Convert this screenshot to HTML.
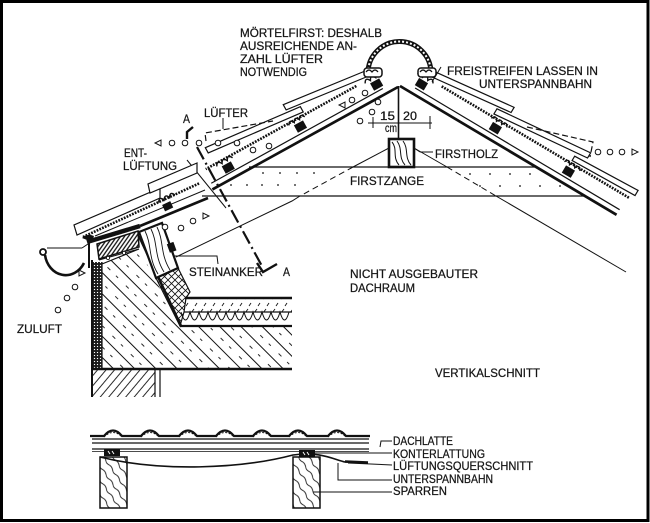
<!DOCTYPE html>
<html><head><meta charset="utf-8"><style>
html,body{margin:0;padding:0;background:#fff;}
svg{display:block;}
text{font-family:"Liberation Sans",Arial,sans-serif;fill:#151515;font-size:12px;stroke:#151515;stroke-width:0.25;}
</style></head><body>
<svg width="650" height="523" viewBox="0 0 650 523" xmlns="http://www.w3.org/2000/svg">
<defs>
 <pattern id="conc" patternUnits="userSpaceOnUse" width="26" height="15" patternTransform="rotate(45)">
  <line x1="0" y1="0.5" x2="26" y2="0.5" stroke="#111" stroke-width="0.9"/>
  <line x1="5" y1="8" x2="9" y2="8" stroke="#111" stroke-width="0.9"/>
  <line x1="17" y1="8" x2="20" y2="8" stroke="#111" stroke-width="0.9"/>
 </pattern>
 <pattern id="wall" patternUnits="userSpaceOnUse" width="10" height="6.5" patternTransform="rotate(-50)">
  <line x1="0" y1="0.5" x2="10" y2="0.5" stroke="#111" stroke-width="0.9"/>
 </pattern>
 <pattern id="wood" patternUnits="userSpaceOnUse" width="10" height="3.2" patternTransform="rotate(-55)">
  <line x1="0" y1="0.8" x2="10" y2="0.8" stroke="#111" stroke-width="1.3"/>
 </pattern>
 <pattern id="stip" patternUnits="userSpaceOnUse" width="3" height="3">
  <rect width="3" height="3" fill="#1a1a1a"/>
  <circle cx="1.5" cy="1.5" r="0.65" fill="#fff"/>
 </pattern>
 <pattern id="xh" patternUnits="userSpaceOnUse" width="7" height="7">
  <path d="M0,0 L7,7 M7,0 L0,7" stroke="#111" stroke-width="0.8"/>
 </pattern>
 <pattern id="screed" patternUnits="userSpaceOnUse" width="9" height="14">
  <line x1="2" y1="5" x2="5" y2="1" stroke="#111" stroke-width="0.9"/>
  <line x1="6" y1="12" x2="8" y2="9" stroke="#111" stroke-width="0.9"/>
 </pattern>
 <pattern id="spar" patternUnits="userSpaceOnUse" width="12" height="8" patternTransform="rotate(55)">
  <path d="M0,1 Q3,0 6,1.5 T12,1" fill="none" stroke="#111" stroke-width="0.9"/>
 </pattern>
</defs>
<rect width="650" height="523" fill="#fff"/>

<!-- ================= RIGHT SLOPE ================= -->
<g transform="translate(400,86) rotate(30.75)" stroke="#111" fill="none">
 <line x1="0" y1="0" x2="252" y2="0" stroke-width="2.7"/>
 <line x1="14" y1="-6" x2="252" y2="-6" stroke-width="1.2"/>
 <line x1="36" y1="-21" x2="255" y2="-21" stroke-width="2.6" stroke-dasharray="1.8 1.2"/>
 <polygon points="186,-29 258,-32 258,-26 186,-24" fill="#fff" stroke-width="1.2"/>
 <polygon points="95,-30 198,-40 198,-34 95,-24" fill="#fff" stroke-width="1.2"/>
 <polygon points="22,-30 109,-40 109,-34 22,-24" fill="#fff" stroke-width="1.2"/>
 <g stroke-width="1.4">
  <rect x="13" y="-16" width="9" height="7" fill="#111"/>
  <path d="M9,-19 q3,-6 6,0 q3,-6 6,0 q3,-6 6,0"/>
  <rect x="99" y="-16" width="9" height="7" fill="#111"/>
  <path d="M95,-19 q3,-6 6,0 q3,-6 6,0 q3,-6 6,0"/>
  <rect x="184" y="-16" width="9" height="7" fill="#111"/>
  <path d="M180,-19 q3,-6 6,0 q3,-6 6,0 q3,-6 6,0"/>
 </g>
</g>

<!-- ================= LEFT SLOPE ================= -->
<g transform="translate(398,87) scale(-1,1) rotate(28.9)" stroke="#111" fill="none">
 <line x1="0" y1="0" x2="212" y2="0" stroke-width="2.7"/>
 <line x1="14" y1="-6" x2="210" y2="-6" stroke-width="1.2"/>
 <line x1="36" y1="-21" x2="208" y2="-21" stroke-width="2.6" stroke-dasharray="1.8 1.2"/>
 <polygon points="95,-30 198,-40 198,-34 95,-24" fill="#fff" stroke-width="1.2"/>
 <polygon points="22,-30 109,-40 109,-34 22,-24" fill="#fff" stroke-width="1.2"/>
 <g stroke-width="1.4">
  <rect x="13" y="-16" width="9" height="7" fill="#111"/>
  <path d="M9,-19 q3,-6 6,0 q3,-6 6,0 q3,-6 6,0"/>
  <rect x="100" y="-16" width="9" height="7" fill="#111"/>
  <path d="M96,-19 q3,-6 6,0 q3,-6 6,0 q3,-6 6,0"/>
  <rect x="183" y="-15" width="9" height="7" fill="#111"/>
  <path d="M179,-18 q3,-6 6,0 q3,-6 6,0 q3,-6 6,0"/>
 </g>
</g>

<!-- ridge -->
<path d="M368,73 A31,31 0 0 1 431,73" fill="none" stroke="#111" stroke-width="5"/>
<path d="M368,73 A31,31 0 0 1 431,73" fill="none" stroke="#fff" stroke-width="2" stroke-dasharray="2 2"/>
<rect x="364" y="68" width="18" height="9" fill="#fff" stroke="#111" stroke-width="1.5" rx="3"/>
<rect x="418" y="68" width="18" height="9" fill="#fff" stroke="#111" stroke-width="1.5" rx="3"/>
<path d="M366,72 q3,-4 6,0 q3,-4 6,0 M420,72 q3,-4 6,0 q3,-4 6,0" stroke="#111" fill="none" stroke-width="1.2"/>
<line x1="441" y1="67" x2="432" y2="82" stroke="#111" stroke-width="1"/>

<!-- apex vertical + Firstholz -->
<line x1="398.5" y1="86" x2="398.5" y2="139" stroke="#111" stroke-width="1.6"/>
<rect x="389" y="139" width="25" height="28" fill="#fff" stroke="#111" stroke-width="2.6"/>
<path d="M392,142 C398,149 392,157 399,165 M397,141 C403,149 398,157 405,165 M403,141 C409,149 404,157 411,165" stroke="#111" fill="none" stroke-width="1"/>
<line x1="414" y1="148" x2="420" y2="152" stroke="#111" stroke-width="1"/>
<line x1="420" y1="152" x2="433" y2="152" stroke="#111" stroke-width="1"/>

<!-- dimension 15-20 -->
<line x1="368" y1="123" x2="432" y2="123" stroke="#111" stroke-width="1"/>
<line x1="373" y1="117" x2="373" y2="128" stroke="#111" stroke-width="1"/>
<line x1="430" y1="116" x2="430" y2="129" stroke="#111" stroke-width="1"/>

<!-- Firstzange -->
<line x1="249" y1="167" x2="537" y2="167" stroke="#111" stroke-width="1.3"/>
<line x1="202" y1="196" x2="585" y2="196" stroke="#111" stroke-width="1.3"/>
<g fill="#111">
 <circle cx="263" cy="173" r="0.9"/><circle cx="280" cy="173" r="0.9"/><circle cx="297" cy="173" r="0.9"/><circle cx="314" cy="173" r="0.9"/>
 <circle cx="470" cy="174" r="0.9"/><circle cx="490" cy="174" r="0.9"/><circle cx="510" cy="174" r="0.9"/><circle cx="530" cy="174" r="0.9"/>
 <circle cx="231" cy="185" r="0.9"/><circle cx="247" cy="185" r="0.9"/><circle cx="262" cy="185" r="0.9"/><circle cx="278" cy="185" r="0.9"/><circle cx="295" cy="185" r="0.9"/>
 <circle cx="480" cy="186" r="0.9"/><circle cx="500" cy="186" r="0.9"/><circle cx="520" cy="186" r="0.9"/><circle cx="540" cy="186" r="0.9"/><circle cx="560" cy="186" r="0.9"/>
</g>

<!-- rafter underside lines -->
<g stroke="#111" stroke-width="1" fill="none">
 <line x1="389" y1="148" x2="353" y2="167"/>
 <line x1="353" y1="167" x2="300" y2="196" stroke-dasharray="6 4"/>
 <polyline points="300,196 292,201 176,257"/>
 <line x1="414" y1="148" x2="447" y2="167"/>
 <line x1="447" y1="167" x2="496" y2="196" stroke-dasharray="6 4"/>
 <line x1="496" y1="196" x2="626" y2="272"/>
</g>

<!-- Lüfter dashed outlines -->
<g stroke="#111" stroke-width="1.2" fill="none" stroke-dasharray="6 3">
 <polyline points="206,141 205,133 273,121"/>
 <polyline points="527,127 593,142 590,157"/>
</g>
<line x1="223" y1="118" x2="223" y2="129" stroke="#111" stroke-width="1"/>

<!-- section line A-A -->
<line x1="197" y1="147" x2="263" y2="268" stroke="#111" stroke-width="2.2" stroke-dasharray="14 4 2 4"/>
<line x1="187" y1="160" x2="226" y2="208" stroke="#111" stroke-width="1"/>
<polyline points="193,127 187,132 187,139" fill="none" stroke="#111" stroke-width="2.4"/>
<polyline points="257,263 263,272 277,264" fill="none" stroke="#111" stroke-width="2.4"/>

<!-- ============ EAVE ============ -->
<polygon points="160,188 74,225 77,235 160,198" fill="#fff" stroke="#111" stroke-width="1.2"/>
<polygon points="197,163 148,184 150,193 197,173" fill="#fff" stroke="#111" stroke-width="1.2"/>
<line x1="83" y1="237" x2="200" y2="183" stroke="#111" stroke-width="2.6" stroke-dasharray="1.8 1.2"/>
<line x1="95" y1="236" x2="205" y2="190" stroke="#111" stroke-width="1"/>
<rect x="163" y="203" width="9" height="7" fill="#111" transform="rotate(-25 167 206)"/>
<path d="M157,199 q3,-6 6,0 q3,-6 6,0 q3,-6 6,0" stroke="#111" fill="none" stroke-width="1.4" transform="rotate(-25 166 197)"/>
<path d="M82,238 q5,-5 12,-2 l-2,6 z" fill="#111"/>
<line x1="87" y1="242" x2="140" y2="226" stroke="#111" stroke-width="4.5"/>
<line x1="140" y1="226" x2="208" y2="198" stroke="#111" stroke-width="2.6"/>
<polygon points="97,244 138,231 139,247 99,259" fill="url(#wood)" stroke="#111" stroke-width="1.5"/>
<line x1="99" y1="260" x2="139" y2="249" stroke="#111" stroke-width="1"/>
<circle cx="108" cy="258" r="1.6" fill="#fff" stroke="#111" stroke-width="0.8"/>
<circle cx="124" cy="253" r="1.6" fill="#fff" stroke="#111" stroke-width="0.8"/>
<line x1="89" y1="242" x2="89" y2="268" stroke="#111" stroke-width="2"/>
<polygon points="102,264 139,249 180,326 292,326 292,369 102,369" fill="url(#conc)"/>
<line x1="102" y1="262" x2="102" y2="369" stroke="#111" stroke-width="1.2"/>
<line x1="102" y1="264" x2="139" y2="249" stroke="#111" stroke-width="1.2"/>
<line x1="139" y1="236" x2="181" y2="326" stroke="#111" stroke-width="2.6"/>
<rect x="92" y="262" width="10" height="106" fill="url(#stip)"/>
<line x1="92" y1="260" x2="92" y2="397" stroke="#111" stroke-width="2"/>
<polygon points="156,278 178,268 190,292 186,298 184,312 180,326" fill="url(#xh)" stroke="#111" stroke-width="1.2"/>
<polygon points="139,232 162,223 178,268 156,278" fill="#fff" stroke="#111" stroke-width="2.2"/>
<path d="M145,231 C152,245 148,258 158,274 M151,229 C158,243 154,256 164,272 M157,227 C164,241 160,254 170,270" stroke="#111" fill="none" stroke-width="0.9"/>
<rect x="168" y="243" width="7" height="9" fill="#111" transform="rotate(-20 171 247)"/>
<polyline points="173,256 217,256 218,264" fill="none" stroke="#111" stroke-width="1"/>
<rect x="186" y="298" width="106" height="14" fill="url(#screed)"/>
<path d="M181,312 q4.5,16 9,0 q4.5,16 9,0 q4.5,16 9,0 q4.5,16 9,0 q4.5,16 9,0 q4.5,16 9,0 q4.5,16 9,0 q4.5,16 9,0 q4.5,16 9,0 q4.5,16 9,0 q4.5,16 9,0 q4.5,16 9,0" fill="none" stroke="#111" stroke-width="1"/>
<line x1="185" y1="298" x2="292" y2="298" stroke="#111" stroke-width="2.4"/>
<line x1="184" y1="312" x2="292" y2="312" stroke="#111" stroke-width="1.2"/>
<line x1="180" y1="326" x2="292" y2="326" stroke="#111" stroke-width="2.2"/>
<line x1="92" y1="369" x2="292" y2="369" stroke="#111" stroke-width="2.6"/>
<rect x="93" y="370" width="62" height="27" fill="url(#wall)"/>
<line x1="155" y1="370" x2="155" y2="397" stroke="#111" stroke-width="1.2"/>
<line x1="160" y1="370" x2="160" y2="397" stroke="#111" stroke-width="1.2"/>

<!-- gutter -->
<circle cx="43" cy="252" r="3" fill="#fff" stroke="#111" stroke-width="1.8"/>
<path d="M45,255 A21,24 0 0 0 84,263" fill="none" stroke="#111" stroke-width="2.6"/>
<line x1="47" y1="248" x2="82" y2="248" stroke="#111" stroke-width="1"/>
<line x1="82" y1="248" x2="88" y2="244" stroke="#111" stroke-width="1"/>

<!-- ventilation circles & triangles -->
<g fill="#fff" stroke="#111" stroke-width="1">
 <circle cx="172" cy="143" r="2.8"/><circle cx="185" cy="143" r="2.8"/><circle cx="199" cy="143" r="2.8"/>
 <circle cx="218" cy="143" r="2.8"/><circle cx="237" cy="143" r="2.8"/><circle cx="253" cy="150" r="2.8"/><circle cx="269" cy="146" r="2.8"/>
 <circle cx="352" cy="100" r="2.8"/><circle cx="365" cy="93" r="2.8"/><circle cx="378" cy="102" r="2.8"/><circle cx="372" cy="112" r="2.8"/><circle cx="360" cy="121" r="2.8"/>
 <circle cx="165" cy="227" r="2.8"/><circle cx="181" cy="228" r="2.8"/><circle cx="193" cy="221" r="2.8"/>
 <circle cx="598" cy="152" r="2.8"/><circle cx="610" cy="152" r="2.8"/><circle cx="622" cy="152" r="2.8"/>
 <circle cx="75" cy="287" r="2.8"/><circle cx="67" cy="298" r="2.8"/><circle cx="58" cy="310" r="2.8"/>
 <polygon points="161,140 161,146 155,143"/>
 <polygon points="345,102 345,108 339,105"/>
 <polygon points="203,213 203,219 209,216"/>
 <polygon points="632,149 632,155 638,152"/>
 <polygon points="79,270 79,276 85,273"/>
</g>

<!-- ============ BOTTOM DETAIL ============ -->
<g stroke="#111" fill="none">
 <path d="M90,436 L104,436 Q113,425 122,436 L141,436 Q150,425 159,436 L179,436 Q188,425 197,436 L216,436 Q225,425 234,436 L253,436 Q262,425 271,436 L289,436 Q298,425 307,436 L328,436 Q337,425 346,436 L370,436" stroke-width="2.2"/>
 <path d="M104,437 Q113,428 122,437 M141,437 Q150,428 159,437 M179,437 Q188,428 197,437 M216,437 Q225,428 234,437 M253,437 Q262,428 271,437 M289,437 Q298,428 307,437 M328,437 Q337,428 346,437" stroke-width="1" stroke-dasharray="2 1.5"/>
 <line x1="92" y1="439" x2="369" y2="439" stroke-width="1.2"/>
 <line x1="92" y1="443" x2="369" y2="443" stroke-width="1.2"/>
 <line x1="92" y1="449" x2="369" y2="449" stroke-width="1.2"/>
 <line x1="92" y1="451.5" x2="369" y2="451.5" stroke-width="0.8"/>
 <path d="M100,457 C160,472 240,469 293,455 C320,451 335,460 345,462 L368,463" stroke-width="1.6"/>
 <line x1="345" y1="461.5" x2="368" y2="462.5" stroke-width="2.5"/>
</g>
<rect x="104" y="449" width="16" height="7" fill="#111"/>
<rect x="299" y="450" width="16" height="7" fill="#111"/>
<path d="M108,451 l2,3 M112,451 l2,3 M303,452 l2,3 M307,452 l2,3" stroke="#fff" stroke-width="1"/>
<rect x="100" y="457" width="27" height="51" fill="url(#spar)" stroke="#111" stroke-width="1.5"/>
<rect x="293" y="457" width="27" height="51" fill="url(#spar)" stroke="#111" stroke-width="1.5"/>
<g stroke="#111" stroke-width="1" fill="none">
 <polyline points="380,447 381,441 392,441"/>
 <line x1="315" y1="453" x2="392" y2="453"/>
 <line x1="348" y1="463" x2="392" y2="465"/>
 <polyline points="338,463 338,480 392,480"/>
 <line x1="313" y1="492" x2="392" y2="492"/>
</g>

<!-- ============ TEXT ============ -->
<text x="240" y="37" textLength="142" lengthAdjust="spacingAndGlyphs">MÖRTELFIRST: DESHALB</text>
<text x="240" y="50" textLength="117" lengthAdjust="spacingAndGlyphs">AUSREICHENDE AN-</text>
<text x="240" y="63" textLength="83" lengthAdjust="spacingAndGlyphs">ZAHL LÜFTER</text>
<text x="240" y="76" textLength="67" lengthAdjust="spacingAndGlyphs">NOTWENDIG</text>
<text x="447" y="75" textLength="151" lengthAdjust="spacingAndGlyphs">FREISTREIFEN LASSEN IN</text>
<text x="479" y="88" textLength="113" lengthAdjust="spacingAndGlyphs">UNTERSPANNBAHN</text>
<text x="204" y="117" textLength="44" lengthAdjust="spacingAndGlyphs">LÜFTER</text>
<text x="183" y="123" font-size="10" textLength="7" lengthAdjust="spacingAndGlyphs">A</text>
<text x="124" y="157" textLength="23" lengthAdjust="spacingAndGlyphs">ENT-</text>
<text x="123" y="170" textLength="54" lengthAdjust="spacingAndGlyphs">LÜFTUNG</text>
<text x="380" y="120" textLength="15" lengthAdjust="spacingAndGlyphs">15</text>
<text x="403" y="120" textLength="14" lengthAdjust="spacingAndGlyphs">20</text>
<text x="385" y="132" font-size="9" textLength="12" lengthAdjust="spacingAndGlyphs">cm</text>
<text x="435" y="158" textLength="63" lengthAdjust="spacingAndGlyphs">FIRSTHOLZ</text>
<text x="350" y="185" textLength="74" lengthAdjust="spacingAndGlyphs">FIRSTZANGE</text>
<text x="189" y="276" textLength="74" lengthAdjust="spacingAndGlyphs">STEINANKER</text>
<text x="283" y="276" textLength="7" lengthAdjust="spacingAndGlyphs">A</text>
<text x="350" y="278" textLength="128" lengthAdjust="spacingAndGlyphs">NICHT AUSGEBAUTER</text>
<text x="350" y="292" textLength="65" lengthAdjust="spacingAndGlyphs">DACHRAUM</text>
<text x="435" y="377" textLength="105" lengthAdjust="spacingAndGlyphs">VERTIKALSCHNITT</text>
<text x="17" y="333" textLength="45" lengthAdjust="spacingAndGlyphs">ZULUFT</text>
<text x="393" y="445" font-size="11" textLength="60" lengthAdjust="spacingAndGlyphs">DACHLATTE</text>
<text x="393" y="458" font-size="11" textLength="92" lengthAdjust="spacingAndGlyphs">KONTERLATTUNG</text>
<text x="393" y="470" font-size="11" textLength="140" lengthAdjust="spacingAndGlyphs">LÜFTUNGSQUERSCHNITT</text>
<text x="393" y="483" font-size="11" textLength="100" lengthAdjust="spacingAndGlyphs">UNTERSPANNBAHN</text>
<text x="393" y="495" font-size="11" textLength="54" lengthAdjust="spacingAndGlyphs">SPARREN</text>

<!-- frame -->
<rect x="1.5" y="1.5" width="646.5" height="519" fill="none" stroke="#000" stroke-width="3"/>
</svg>
</body></html>
